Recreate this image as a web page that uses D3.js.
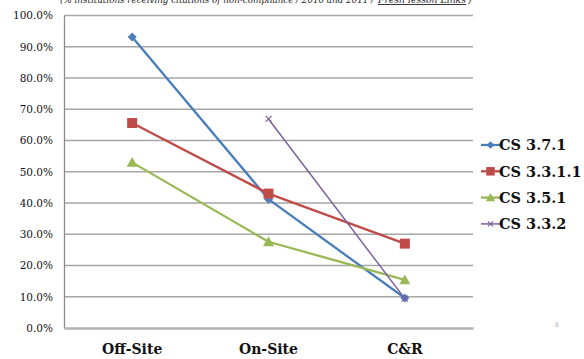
<!DOCTYPE html>
<html>
<head>
<meta charset="utf-8">
<script src="https://cdn.jsdelivr.net/npm/d3@7/dist/d3.min.js"></script>
<style>
  html, body { margin: 0; padding: 0; background: #fff; }
  svg { display: block; }
</style>
</head>
<body>
<svg id="chart" width="584" height="359"></svg>
<script>
// Share of institutions cited for non-compliance, by review stage
const categories = ["Off-Site", "On-Site", "C&R"];
const seriesNames = ["CS 3.7.1", "CS 3.3.1.1", "CS 3.5.1", "CS 3.3.2"];
const cs371  = [0.931, 0.412, 0.096];
const cs3311 = [0.656, 0.430, 0.270];
const cs351  = [0.530, 0.276, 0.154];
const cs332  = [null, 0.669, 0.094];
const yTicks = [0, 0.1, 0.2, 0.3, 0.4, 0.5, 0.6, 0.7, 0.8, 0.9, 1.0];

const series = [
  { name: seriesNames[0], values: cs371,  color: "#4a7ebb", marker: "diamond" },
  { name: seriesNames[1], values: cs3311, color: "#be4b48", marker: "square" },
  { name: seriesNames[2], values: cs351,  color: "#98b954", marker: "triangle" },
  { name: seriesNames[3], values: cs332,  color: "#7d60a0", marker: "x" }
];

const svg = d3.select("#chart");
const serif = "'DejaVu Serif', serif";

const plot = { left: 64, right: 473, top: 15.5, bottom: 328 };

const x = d3.scaleBand().domain(categories).range([plot.left, plot.right]);
const y = d3.scaleLinear().domain([0, 1]).range([plot.bottom, plot.top]);
const fmt = d3.format(".1%");

// subtitle line, running off the top of the page
const sub = svg.append("g")
  .attr("font-family", serif).attr("font-style", "italic")
  .attr("font-size", 9).attr("fill", "#222");
sub.append("text")
  .attr("x", 60).attr("y", 3)
  .attr("textLength", 314).attr("lengthAdjust", "spacingAndGlyphs")
  .text("(% institutions receiving citations of non-compliance / 2010 and 2011 /");
sub.append("text")
  .attr("x", 378).attr("y", 3)
  .attr("textLength", 88).attr("lengthAdjust", "spacingAndGlyphs")
  .attr("text-decoration", "underline")
  .text("Fresh lesson Links");
sub.append("text")
  .attr("x", 468).attr("y", 3)
  .text(")");

// horizontal gridlines
svg.append("g")
  .selectAll("line")
  .data(yTicks.filter(d => d > 0))
  .join("line")
  .attr("x1", plot.left).attr("x2", plot.right)
  .attr("y1", d => y(d)).attr("y2", d => y(d))
  .attr("stroke", "#a6a6a6").attr("stroke-width", 1.3);

// y axis
const yAxis = svg.append("g")
  .attr("transform", `translate(${plot.left},0)`)
  .call(d3.axisLeft(y).tickValues(yTicks).tickFormat(fmt).tickSize(0).tickPadding(11));
yAxis.select(".domain").attr("stroke", "#8c8c8c").attr("stroke-width", 1.3);
yAxis.selectAll("text")
  .attr("font-family", serif).attr("font-size", 10.5).attr("fill", "#111");

// x axis
const xAxis = svg.append("g")
  .attr("transform", `translate(0,${plot.bottom})`)
  .call(d3.axisBottom(x).tickSize(0).tickPadding(16));
xAxis.select(".domain").attr("stroke", "#b3b3b3").attr("stroke-width", 2.5);
xAxis.selectAll("text")
  .attr("font-family", serif).attr("font-size", 14).attr("font-weight", "bold").attr("fill", "#111");

const cx = c => x(c) + x.bandwidth() / 2;

function drawMarker(g, type, color, px, py, s) {
  if (type === "diamond") {
    g.append("path")
      .attr("d", `M${px},${py - s}L${px + s},${py}L${px},${py + s}L${px - s},${py}Z`)
      .attr("fill", color);
  } else if (type === "square") {
    g.append("rect")
      .attr("x", px - s).attr("y", py - s).attr("width", 2 * s).attr("height", 2 * s)
      .attr("fill", color);
  } else if (type === "triangle") {
    g.append("path")
      .attr("d", `M${px},${py - s}L${px + s},${py + s * 0.8}L${px - s},${py + s * 0.8}Z`)
      .attr("fill", color);
  } else {
    g.append("path")
      .attr("d", `M${px - s * 0.75},${py - s * 0.75}L${px + s * 0.75},${py + s * 0.75}M${px + s * 0.75},${py - s * 0.75}L${px - s * 0.75},${py + s * 0.75}`)
      .attr("stroke", color).attr("stroke-width", 1.2).attr("fill", "none");
  }
}

const markerSize = { diamond: 4.5, square: 5, triangle: 5.5, x: 4 };
const lineWidth = { diamond: 2.3, square: 2.3, triangle: 2.3, x: 1.5 };

const line = d3.line()
  .defined(d => d.v != null)
  .x(d => cx(d.c))
  .y(d => y(d.v));

series.forEach(s => {
  const pts = categories.map((c, i) => ({ c, v: s.values[i] }));
  const g = svg.append("g");
  g.append("path")
    .datum(pts)
    .attr("d", line)
    .attr("fill", "none")
    .attr("stroke", s.color)
    .attr("stroke-width", lineWidth[s.marker]);
  pts.filter(p => p.v != null).forEach(p =>
    drawMarker(g, s.marker, s.color, cx(p.c), y(p.v), markerSize[s.marker]));
});

// legend
const legend = svg.append("g").attr("transform", "translate(481,145)");
series.forEach((s, i) => {
  const gy = i * 26.3;
  const g = legend.append("g").attr("transform", `translate(0,${gy})`);
  g.append("line").attr("x1", 0).attr("x2", 19).attr("y1", 0).attr("y2", 0)
    .attr("stroke", s.color).attr("stroke-width", lineWidth[s.marker]);
  drawMarker(g, s.marker, s.color, 9.5, 0, markerSize[s.marker] * 0.85);
  g.append("text")
    .attr("x", 18).attr("y", 0).attr("dy", "0.36em")
    .attr("font-family", serif).attr("font-weight", "bold").attr("font-size", 14.5)
    .attr("fill", "#111")
    .text(s.name);
});

// page number
svg.append("text")
  .attr("x", 555).attr("y", 327)
  .attr("font-family", serif).attr("font-size", 6).attr("fill", "#999")
  .text("8");
</script>
</body>
</html>
